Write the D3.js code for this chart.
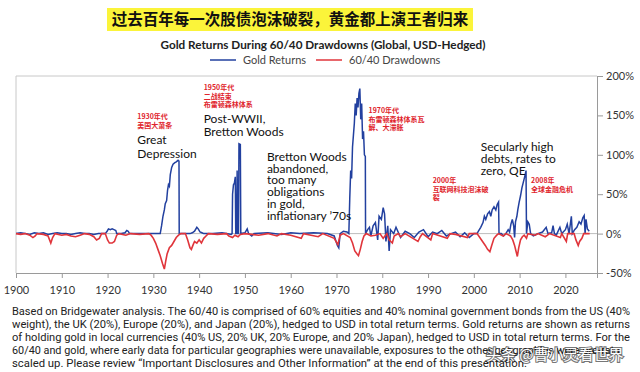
<!DOCTYPE html>
<html lang="zh">
<head>
<meta charset="UTF-8">
<title>Gold Returns During 60/40 Drawdowns</title>
<script src="https://d3js.org/d3.v7.min.js"></script>
<style>
  body { margin: 0; background: #fff; }
  svg { display: block; }
  .axis text { font: 11px Lato, sans-serif; fill: #333; }
  .axis path, .axis line { stroke: #9a9a9a; }
  .note { font: 12px Lato, sans-serif; fill: #111; }
  .cn { font: bold 7px "Noto Sans CJK SC", sans-serif; fill: #e0242c; }
  .foot { font: 10.5px Roboto, sans-serif; fill: #222; }
</style>
</head>
<body>
<div id="chart"></div>
<script>
// ---- data ----
const goldYears = [1900,1901,1902,1903,1904,1905,1906,1907,1908,1909,1910,1911,1912,1913,1914,1915,1916,1917,1918,1919.5,
  1919.9,1920.2,1920.6,1921.0,1921.4,1921.8,1922.0,1923,1923.8,1924.2,1924.5,1924.8,1926,1928,1930,1931.5,
  1931.8,1932.1,1932.4,1932.6,1932.9,1933.1,1933.3,1933.5,1933.7,1934.0,1934.3,1934.7,1935.0,1935.4,1935.6,1935.65,
  1937,1938.0,1938.5,1939.0,1939.5,1939.8,1940.2,1940.6,1941,1943,1945,1946,1947.0,1947.2,
  1947.3,1947.5,1947.7,1947.9,1948.0,1948.2,1948.3,1948.45,1948.6,1948.7,1949.0,1949.1,
  1950.0,1950.5,1950.8,1951.5,1952,1955,1958,1960,1962,1965,1968,1969.5,1970.2,1970.5,1970.8,1971.5,1972.3,1972.7,
  1972.9,1973.1,1973.3,1973.5,1973.7,1973.9,1974.1,1974.3,1974.5,1974.7,1974.9,1975.1,1975.3,1975.5,1975.7,1975.9,1976.1,1976.3,1976.35,
  1976.8,1977.2,1977.5,1978,1978.5,1979,1979.3,1979.8,1980.2,1980.5,1980.8,1981.2,1981.5,1981.8,1982.5,1983,1984,1985,1986,1987,
  1988,1989,1990,1991,1992,1993,1994,1995,1996,1997,1998,1999,2000.0,2000.7,
  2001.0,2001.5,2002.0,2002.3,2002.6,2003.0,2003.4,2003.7,2004.0,2004.4,2004.8,2005.1,2005.4,2005.5,
  2006.0,2006.5,2007.0,2007.5,2007.8,2008.1,2008.4,2008.7,2008.9,2009.1,2009.4,2009.6,2009.9,2010.2,2010.5,2010.8,2011.1,2011.4,2011.5,
  2011.8,2012.1,2012.4,2013,2014,2015,2015.8,2016.2,2017,2017.3,2017.6,2018,2018.8,2019.2,2020.0,2020.4,2020.8,2021.3,2021.5,
  2022.0,2022.5,2023.0,2023.4,2023.8,2024.1,2024.3,2024.5,2024.8,2025.2];
const goldValues = [0,1,0,-1,1,0,1,-1,0,1,0,0,-1,0,1,0,0,-1,0,0,
  3,6,5,6,5,4,0,0,1,4,3,0,0,0,0,0,
  10,22,30,38,42,55,62,60,75,84,88,90,91,93,92,0,
  0,0,1,3,8,6,2,1,0,0,1,0,-1,0,
  50,62,64,72,0,0,80,0,0,114,113,0,
  1,6,0,-3,0,1,-1,1,0,1,0,-3,-15,-18,0,3,2,0,
  45,80,70,110,125,140,165,150,172,160,178,184,145,165,120,130,100,98,0,
  5,8,-3,10,14,-8,22,18,33,25,-10,10,-22,5,0,8,-5,3,0,-5,
  2,5,-4,2,0,4,-3,0,2,-4,1,-5,0,0,
  3,8,14,22,18,25,28,22,30,34,30,37,40,0,
  0,-3,0,5,2,12,18,10,-5,15,22,30,40,48,58,65,72,80,0,
  15,12,0,-3,0,2,8,0,1,10,0,-2,8,0,5,12,0,22,0,
  5,8,15,12,20,23,0,18,6,3];

const ddYears = [1900,1901,1902,1903,1903.7,1904.2,1904.6,1906,1907.0,1907.6,1908.0,1908.5,1910,1911,1912,1913,1914,1915,1916,1917,
  1917.6,1918.2,1918.7,1919.5,1920.0,1920.4,1921.0,1921.5,1922.0,1922.5,1924,1925,1927,1929,
  1929.5,1930.0,1930.5,1931.0,1931.5,1932.0,1932.4,1932.7,1933.0,1933.5,1934.0,1934.5,1935.0,1935.5,1936.0,
  1937.0,1937.5,1938.0,1938.3,1938.7,1939.0,1939.5,1940.0,1940.5,1941.0,1941.5,1942,1944,1946,1946.5,1947.3,1947.8,1948.5,1949.0,
  1950,1953,1955,1957,1958,1960,1962.3,1962.8,1966,1967,1969.5,1970.3,1970.8,1971.5,
  1973.0,1973.5,1974.0,1974.5,1974.8,1975.2,1975.6,1976.0,1976.5,1977.5,1978.5,1979.5,1980.2,1981.0,1981.5,1982.2,1982.6,1983.5,
  1984,1985,1987.8,1988.3,1988.8,1990.6,1991.0,1994.2,1994.8,1996,1998.6,1999,2000.0,2000.7,
  2001.3,2001.9,2002.5,2003.0,2003.5,2003.9,2004.4,2005.0,2005.4,2006.4,2007,
  2008.0,2008.5,2008.9,2009.2,2009.5,2009.8,2010.2,2010.6,2011.0,2011.5,2011.8,
  2013.4,2014,2015.6,2016.1,2016.5,2018.9,2019.2,2020.2,2020.5,2021.9,2022.3,2022.8,2023.1,2023.6,2024.0,2025.3];
const ddValues = [0,-1,0,-2,-5,-3,0,-1,-3,-12,-5,0,-2,-1,-3,-4,-2,0,-1,-4,
  -8,-6,0,0,-8,-12,-12,-10,-2,0,-2,0,-1,0,
  -2,-6,-12,-20,-28,-38,-45,-35,-26,-18,-15,-10,-5,-2,0,
  0,-8,-18,-20,-14,-10,-12,-8,-12,-6,-3,0,-1,0,-3,-5,-2,-4,-1,
  0,-2,0,-3,0,-2,-6,0,-4,0,-6,-14,-2,0,
  -5,-12,-22,-26,-28,-20,-10,-3,0,-3,-2,0,-6,0,-8,-12,-3,0,
  -4,0,-10,-4,0,-8,0,-6,0,-1,-5,0,0,0,
  -5,-10,-15,-20,-23,-15,-6,-2,0,-3,0,
  -3,-8,-15,-22,-29,-18,-8,-4,-2,-6,0,
  -2,0,-4,-2,0,-5,0,-10,0,0,-8,-15,-10,-6,0,0];

const xTicks = [1900,1910,1920,1930,1940,1950,1960,1970,1980,1990,2000,2010,2020];
const yTicks = [-50,0,50,100,150,200];

const notes = [
  {x: 1926.5, y: 144, dy: 14, lines: ["Great", "Depression"]},
  {x: 1941, y: 123, dy: 13, lines: ["Post-WWII,", "Bretton Woods"]},
  {x: 1954.8, y: 161, dy: 11.7, lines: ["Bretton Woods", "abandoned,", "too many", "obligations", "in gold,", "inflationary ’70s"]},
  {x: 2001.5, y: 151, dy: 12.2, lines: ["Secularly high", "debts, rates to", "zero, QE"]}
];
const cnNotes = [
  {x: 1926.5, y: 119, lines: ["1930年代", "美国大萧条"]},
  {x: 1941, y: 90, lines: ["1950年代", "二战结束", "布雷顿森林体系"]},
  {x: 1977, y: 113, lines: ["1970年代", "布雷顿森林体系瓦", "解、大滞胀"]},
  {x: 1991, y: 183, lines: ["2000年", "互联网科技泡沫破", "裂"]},
  {x: 2012.5, y: 183, lines: ["2008年", "全球金融危机"]}
];
const footLines = [
  "Based on Bridgewater analysis. The 60/40 is comprised of 60% equities and 40% nominal government bonds from the US (40%",
  "weight), the UK (20%), Europe (20%), and Japan (20%), hedged to USD in total return terms. Gold returns are shown as returns",
  "of holding gold in local currencies (40% US, 20% UK, 20% Europe, and 20% Japan), hedged to USD in total return terms. For the",
  "60/40 and gold, where early data for particular geographies were unavailable, exposures to the other geographies were pro-rata",
  "scaled up. Please review “Important Disclosures and Other Information” at the end of this presentation."
];
const footWidths = [618, 618, 618, 608, 515];

// ---- drawing ----
const W = 640, H = 372;
const plotL = 16, plotR = 597, plotT = 76, plotB = 273;
const blue = "#22409f", red = "#e0353b";

const svg = d3.select("#chart").append("svg").attr("width", W).attr("height", H);

// headline with yellow highlight
svg.append("rect").attr("x", 107).attr("y", 8).attr("width", 366).attr("height", 23).attr("fill", "#fbf43a");
svg.append("text").attr("x", 290).attr("y", 25).attr("text-anchor", "middle")
  .style("font", "bold 15.5px 'Noto Sans CJK SC', sans-serif").attr("fill", "#111")
  .text("过去百年每一次股债泡沫破裂，黄金都上演王者归来");

svg.append("text").attr("x", 323).attr("y", 49).attr("text-anchor", "middle")
  .style("font", "bold 11.5px Lato, sans-serif").attr("fill", "#222")
  .attr("textLength", 325).attr("lengthAdjust", "spacingAndGlyphs")
  .text("Gold Returns During 60/40 Drawdowns (Global, USD-Hedged)");

// legend
const legend = [{label: "Gold Returns", color: blue, x: 210}, {label: "60/40 Drawdowns", color: red, x: 316}];
legend.forEach(d => {
  svg.append("line").attr("x1", d.x).attr("x2", d.x + 26).attr("y1", 60).attr("y2", 60)
    .attr("stroke", d.color).attr("stroke-width", 1.5);
  svg.append("text").attr("x", d.x + 33).attr("y", 64)
    .style("font", "11px Lato, sans-serif").attr("fill", "#444").text(d.label);
});

const x = d3.scaleLinear().domain([1900, 2026.9]).range([plotL, plotR]);
const y = d3.scaleLinear().domain([-50, 200]).range([plotB, plotT]);

// frame
svg.append("path").attr("d", `M${plotR},${plotT}H${plotL}V${plotB}`)
  .attr("fill", "none").attr("stroke", "#c8c8c8");

svg.append("g").attr("class", "axis").attr("transform", `translate(0,${plotB})`)
  .call(d3.axisBottom(x).tickValues(xTicks).tickFormat(d3.format("d")).tickSize(5).tickPadding(8))
  .call(g => g.select(".domain").attr("stroke", "#9a9a9a"));

svg.append("g").attr("class", "axis").attr("transform", `translate(${plotR},0)`)
  .call(d3.axisRight(y).tickValues(yTicks).tickFormat(d => d + "%").tickSize(6).tickPadding(3));

// zero line
svg.append("line").attr("x1", plotL).attr("x2", plotR).attr("y1", y(0)).attr("y2", y(0))
  .attr("stroke", "#bdbdbd");

const line = d3.line().x(d => x(d[0])).y(d => y(d[1]));
svg.append("path").datum(d3.zip(goldYears, goldValues))
  .attr("d", line).attr("fill", "none").attr("stroke", blue).attr("stroke-width", 1.5);
svg.append("path").datum(d3.zip(ddYears, ddValues))
  .attr("d", line).attr("fill", "none").attr("stroke", red).attr("stroke-width", 1.6);

// annotations
notes.forEach(n => {
  const t = svg.append("text").attr("class", "note");
  n.lines.forEach((s, i) => t.append("tspan").attr("x", x(n.x)).attr("y", n.y + i * n.dy).text(s));
});
cnNotes.forEach(n => {
  const t = svg.append("text").attr("class", "cn");
  n.lines.forEach((s, i) => t.append("tspan").attr("x", x(n.x)).attr("y", n.y + i * 8.5).text(s));
});

// footnote
footLines.forEach((s, i) => {
  svg.append("text").attr("class", "foot").attr("x", 12).attr("y", 315 + i * 13)
    .attr("textLength", footWidths[i]).attr("lengthAdjust", "spacingAndGlyphs").text(s);
});

// watermark
svg.append("text").attr("x", 486).attr("y", 360)
  .style("font", "15px 'Noto Sans CJK SC', sans-serif")
  .attr("fill", "#fff").attr("stroke", "rgba(0,0,0,0.55)").attr("stroke-width", 2.2)
  .attr("paint-order", "stroke").text("头条 @曹小灵看世界");
</script>
</body>
</html>
